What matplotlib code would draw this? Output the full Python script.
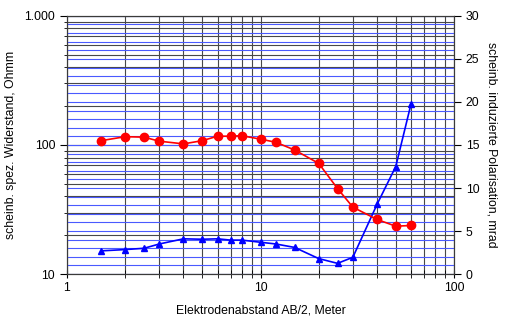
import matplotlib
matplotlib.use('Agg')
import matplotlib.pyplot as plt
from matplotlib.ticker import MultipleLocator, LogLocator, NullFormatter

plt.rcParams['font.family'] = ['Liberation Sans', 'DejaVu Sans']

# Elektrodenabstand AB/2 in Meter
abstand = [1.5, 2, 2.5, 3, 4, 5, 6, 7, 8, 10, 12, 15, 20, 25, 30, 40, 50, 60]
# scheinbarer spezifischer Widerstand (Ohmm)
widerstand = [108, 116, 115, 107, 102, 108, 117, 117, 118, 111, 105, 91.5,
              72, 46, 33, 26.5, 23.5, 23.8]
# scheinbare induzierte Polarisation (mrad)
polarisation = [2.7, 2.85, 3.0, 3.5, 4.1, 4.05, 4.1, 3.95, 3.95, 3.7, 3.5, 3.1,
                1.8, 1.25, 1.95, 8.1, 12.5, 19.8]

x_ticks = [1, 10, 100]
x_labels = ['1', '10', '100']
left_ticks = [10, 100, 1000]
left_labels = ['10', '100', '1.000']

fs = 8.8
fig = plt.figure(figsize=(5.09, 3.24), dpi=100)
ax = fig.add_axes([0.1316, 0.154, 0.7604, 0.797])
ax2 = ax.twinx()

# linke Achse: log-log
ax.set_xscale('log')
ax.set_yscale('log')
ax.set_xlim(1, 100)
ax.set_ylim(10, 1000)
ax.set_xticks(x_ticks)
ax.set_xticklabels(x_labels)
ax.set_yticks(left_ticks)
ax.set_yticklabels(left_labels)
ax.xaxis.set_minor_locator(LogLocator(base=10, subs=range(2, 10)))
ax.yaxis.set_minor_locator(LogLocator(base=10, subs=range(2, 10)))
ax.xaxis.set_minor_formatter(NullFormatter())
ax.yaxis.set_minor_formatter(NullFormatter())
ax.grid(True, which='both', color='#484848', linewidth=0.8)
ax.tick_params(axis='x', which='both', direction='inout', length=6, labelsize=fs, pad=3)
ax.tick_params(axis='y', which='major', direction='out', length=5, labelsize=fs)
ax.tick_params(axis='y', which='minor', direction='out', length=2)
ax.set_xlabel('Elektrodenabstand AB/2, Meter', fontsize=fs, labelpad=7)
ax.set_ylabel('scheinb. spez. Widerstand, Ohmm', fontsize=fs, labelpad=5)

# rechte Achse: linear
ax2.set_ylim(0, 30)
ax2.yaxis.set_major_locator(MultipleLocator(5))
ax2.yaxis.set_minor_locator(MultipleLocator(1))
ax2.grid(True, which='both', axis='y', color='#4a5aff', linewidth=0.8)
ax2.tick_params(axis='y', which='major', direction='out', length=5, labelsize=fs)
ax2.tick_params(axis='y', which='minor', length=0)
ax2.set_ylabel('scheinb. induzierte Polarisation, mrad', fontsize=fs,
               rotation=270, labelpad=13)

# Messkurven (rote Kurve auf ax2 gezeichnet, aber mit den Koordinaten von ax)
ax2.plot(abstand, polarisation, color='#0000ff', marker='^', markersize=5,
         linewidth=1.2, zorder=5)
ax2.plot(abstand, widerstand, color='#ff0000', marker='o', markersize=6,
         linewidth=1.2, transform=ax.transData, zorder=6)
ax2.set_ylim(0, 30)
ax2.set_xlim(1, 100)

for sp in ax.spines.values():
    sp.set_color('#3a3a3a')
for sp in ax2.spines.values():
    sp.set_color('#3a3a3a')

fig.savefig('out.png', dpi=100)
